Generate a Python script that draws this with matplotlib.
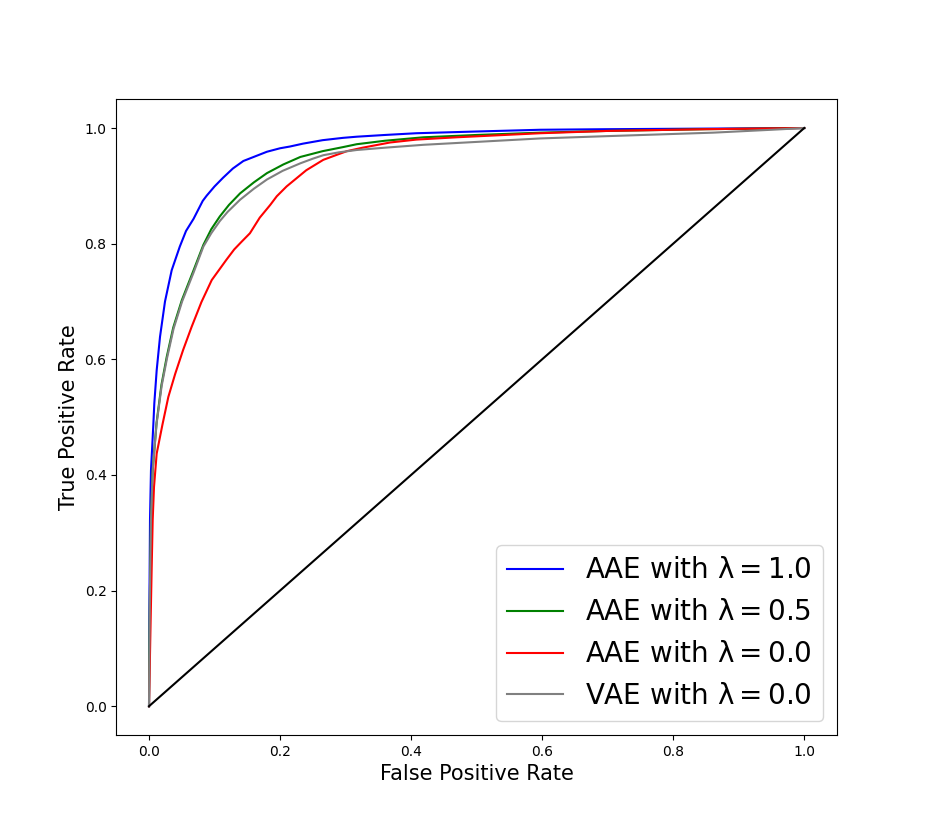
import matplotlib
matplotlib.use('Agg')
import matplotlib.pyplot as plt

# ROC points
fpr_aae10 = [0.0, 0.0005, 0.0015, 0.003, 0.0066, 0.0081, 0.0117, 0.0168, 0.0244, 0.0346,
             0.047, 0.0565, 0.068, 0.082, 0.088, 0.1, 0.113, 0.128, 0.144, 0.162, 0.18,
             0.2, 0.215, 0.235, 0.265, 0.296, 0.317, 0.36, 0.408, 0.5, 0.597, 0.7, 0.85, 1.0]
tpr_aae10 = [0.0, 0.149, 0.322, 0.408, 0.487, 0.524, 0.581, 0.639, 0.7, 0.754,
             0.795, 0.822, 0.843, 0.874, 0.883, 0.899, 0.914, 0.93, 0.943, 0.951, 0.959,
             0.965, 0.968, 0.973, 0.979, 0.983, 0.985, 0.988, 0.991, 0.994, 0.997, 0.998, 0.999, 1.0]

fpr_aae05 = [0.0, 0.0005, 0.0015, 0.003, 0.0056, 0.0115, 0.019, 0.027, 0.037, 0.05,
             0.068, 0.083, 0.095, 0.108, 0.122, 0.139, 0.16, 0.18, 0.205, 0.231, 0.265,
             0.296, 0.317, 0.36, 0.419, 0.5, 0.597, 0.7, 0.85, 1.0]
tpr_aae05 = [0.0, 0.09, 0.207, 0.322, 0.408, 0.49, 0.556, 0.604, 0.655, 0.702,
             0.754, 0.798, 0.825, 0.847, 0.867, 0.887, 0.906, 0.922, 0.937, 0.95, 0.96,
             0.967, 0.972, 0.978, 0.984, 0.988, 0.992, 0.995, 0.998, 1.0]

fpr_aae00 = [0.0, 0.001, 0.0025, 0.004, 0.0056, 0.0076, 0.0117, 0.0205, 0.0295, 0.04,
             0.052, 0.065, 0.08, 0.0957, 0.118, 0.13, 0.141, 0.154, 0.169, 0.185, 0.195,
             0.21, 0.225, 0.24, 0.266, 0.285, 0.302, 0.326, 0.368, 0.408, 0.47, 0.597, 0.7,
             0.85, 1.0]
tpr_aae00 = [0.0, 0.06, 0.149, 0.235, 0.322, 0.379, 0.437, 0.487, 0.535, 0.575,
             0.616, 0.656, 0.699, 0.737, 0.772, 0.79, 0.803, 0.818, 0.845, 0.867, 0.882,
             0.899, 0.913, 0.927, 0.945, 0.953, 0.96, 0.966, 0.975, 0.98, 0.984, 0.991, 0.995,
             0.998, 1.0]

fpr_vae00 = [0.0, 0.0005, 0.0015, 0.003, 0.0056, 0.0115, 0.0193, 0.0275, 0.0375, 0.0505,
             0.068, 0.083, 0.095, 0.108, 0.12, 0.139, 0.16, 0.18, 0.204, 0.231, 0.25,
             0.266, 0.29, 0.317, 0.36, 0.419, 0.5, 0.597, 0.7, 0.861, 0.95, 1.0]
tpr_vae00 = [0.0, 0.09, 0.207, 0.322, 0.408, 0.488, 0.554, 0.602, 0.653, 0.7,
             0.75, 0.795, 0.818, 0.839, 0.855, 0.876, 0.895, 0.911, 0.926, 0.939, 0.947,
             0.953, 0.958, 0.962, 0.966, 0.971, 0.976, 0.982, 0.986, 0.992, 0.997, 1.0]

labels = [r'AAE with $\mathrm{\lambda} = 1.0$', r'AAE with $\mathrm{\lambda} = 0.5$',
          r'AAE with $\mathrm{\lambda} = 0.0$', r'VAE with $\mathrm{\lambda} = 0.0$']
colors = ['blue', 'green', 'red', 'gray']

fig = plt.figure(figsize=(9.3, 8.26), dpi=100)
ax = fig.add_subplot(111)

curves = [(fpr_aae10, tpr_aae10), (fpr_aae05, tpr_aae05),
          (fpr_aae00, tpr_aae00), (fpr_vae00, tpr_vae00)]
for (x, y), lab, c in zip(curves, labels, colors):
    ax.plot(x, y, color=c, label=lab)
ax.plot([0, 1], [0, 1], color='black')

ax.set_xlabel('False Positive Rate', fontsize=15)
ax.set_ylabel('True Positive Rate', fontsize=15)
ax.legend(loc='lower right', fontsize=20)

fig.savefig('out.png', dpi=100)
